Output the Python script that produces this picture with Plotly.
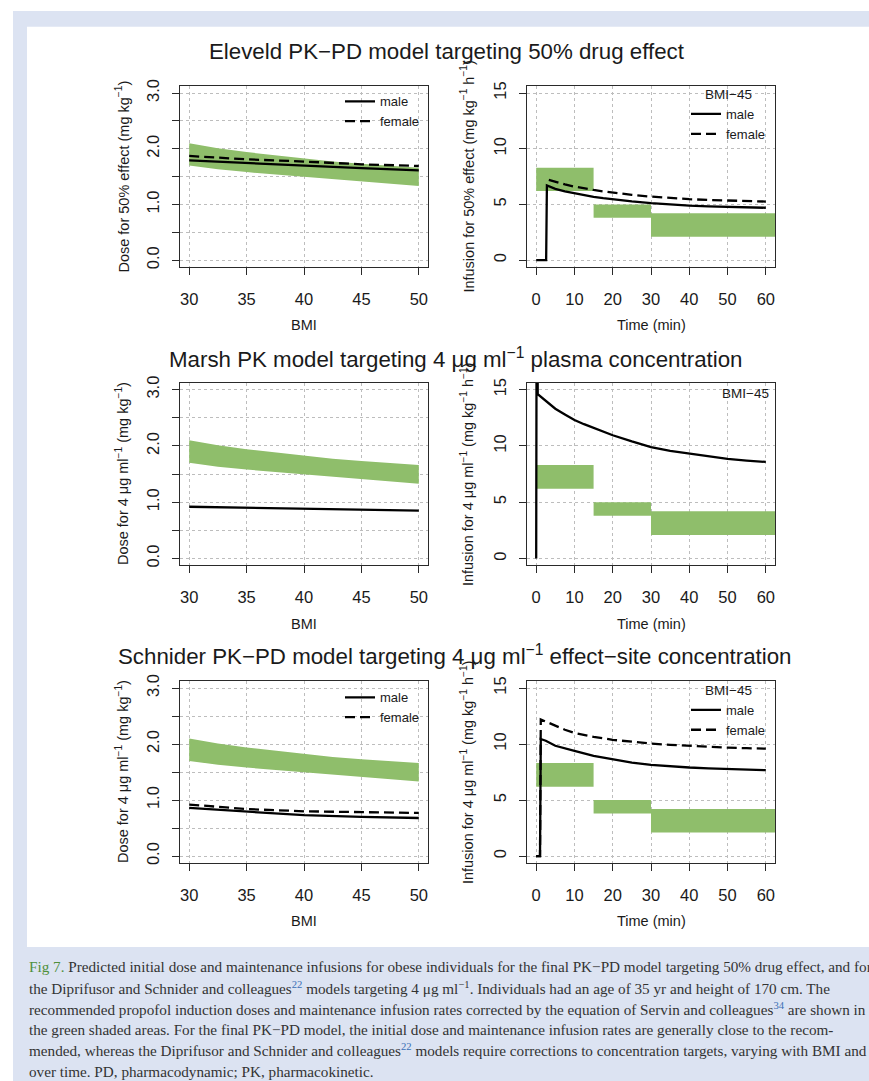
import plotly.graph_objects as go

W, H = 869, 1081
FONT = "Liberation Sans, Arial, sans-serif"
SERIF = "Liberation Serif, Times New Roman, serif"

# ---------------- data ----------------
bmi = [30, 32.5, 35, 37.5, 40, 42.5, 45, 47.5, 50]
rec_dose_upper = [2.10, 2.01, 1.94, 1.88, 1.82, 1.77, 1.73, 1.69, 1.66]
rec_dose_lower = [1.70, 1.63, 1.58, 1.54, 1.50, 1.46, 1.42, 1.37, 1.33]

bmi_lines = [30, 35, 40, 45, 50]
eleveld_dose_male = [1.79, 1.74, 1.70, 1.65, 1.61]
eleveld_dose_female = [1.87, 1.81, 1.77, 1.72, 1.69]
marsh_dose = [0.92, 0.90, 0.89, 0.87, 0.85]
schnider_dose_male = [0.86, 0.79, 0.73, 0.70, 0.68]
schnider_dose_female = [0.92, 0.84, 0.80, 0.78, 0.77]

rec_inf_start = [0, 15, 30]
rec_inf_end = [15, 30, 65]
rec_inf_low = [6.2, 3.8, 2.1]
rec_inf_high = [8.3, 5.0, 4.2]

eleveld_t_male = [0, 2.6, 2.8, 5, 7.5, 10, 12.5, 15, 17.5, 20, 25, 30, 35, 40, 45, 50, 55, 60]
eleveld_inf_male = [0, 0, 6.7, 6.4, 6.18, 6.0, 5.83, 5.68, 5.56, 5.45, 5.27, 5.12, 5.0, 4.9, 4.83, 4.77, 4.73, 4.70]
eleveld_t_female = [3.3, 5, 7.5, 10, 12.5, 15, 17.5, 20, 25, 30, 35, 40, 45, 50, 55, 60]
eleveld_inf_female = [7.2, 7.03, 6.8, 6.6, 6.43, 6.3, 6.17, 6.06, 5.86, 5.7, 5.57, 5.47, 5.4, 5.35, 5.3, 5.26]

marsh_t = [0, 0.2, 0.4, 2.5, 5, 7.5, 10, 12.5, 15, 17.5, 20, 25, 30, 35, 40, 45, 50, 55, 60]
marsh_inf = [0, 40, 14.6, 14.0, 13.3, 12.8, 12.3, 11.93, 11.6, 11.27, 10.95, 10.4, 9.9, 9.55, 9.3, 9.05, 8.85, 8.7, 8.58]

schnider_t_male = [0, 1.0, 1.2, 2.5, 5, 7.5, 10, 15, 20, 25, 30, 35, 40, 45, 50, 55, 60]
schnider_inf_male = [0, 0, 10.45, 10.3, 9.85, 9.6, 9.39, 8.95, 8.62, 8.35, 8.15, 8.02, 7.91, 7.83, 7.76, 7.71, 7.67]
schnider_t_female = [0, 1.0, 1.2, 2.5, 5, 7.5, 10, 15, 20, 25, 30, 35, 40, 45, 50, 55, 60]
schnider_inf_female = [0, 0, 12.2, 12.0, 11.6, 11.28, 11.0, 10.65, 10.38, 10.18, 10.04, 9.93, 9.83, 9.75, 9.68, 9.63, 9.59]

dose_ticks = [0, 1, 2, 3]
dose_ticktext = ["0.0", "1.0", "2.0", "3.0"]
bmi_ticks = [30, 35, 40, 45, 50]
time_ticks = [0, 10, 20, 30, 40, 50, 60]
inf_ticks = [0, 5, 10, 15]

titles = [
    "Eleveld PK−PD model targeting 50% drug effect",
    "Marsh PK model targeting 4 μg ml<sup>−1</sup> plasma concentration",
    "Schnider PK−PD model targeting 4 μg ml<sup>−1</sup> effect−site concentration",
]
dose_ytitles = [
    "Dose for 50% effect (mg kg<sup>−1</sup>)",
    "Dose for 4 μg ml<sup>−1</sup> (mg kg<sup>−1</sup>)",
    "Dose for 4 μg ml<sup>−1</sup> (mg kg<sup>−1</sup>)",
]
inf_ytitles = [
    "Infusion for 50% effect (mg kg<sup>−1</sup> h<sup>−1</sup>)",
    "Infusion for 4 μg ml<sup>−1</sup> (mg kg<sup>−1</sup> h<sup>−1</sup>)",
    "Infusion for 4 μg ml<sup>−1</sup> (mg kg<sup>−1</sup> h<sup>−1</sup>)",
]

caption_lines = [
    "<span style='color:#4f8f3a'>Fig 7.</span> Predicted initial dose and maintenance infusions for obese individuals for the final PK−PD model targeting 50% drug effect, and for",
    "the Diprifusor and Schnider and colleagues<sup><span style='color:#3a6fb5'>22</span></sup> models targeting 4 μg ml<sup>−1</sup>. Individuals had an age of 35 yr and height of 170 cm. The",
    "recommended propofol induction doses and maintenance infusion rates corrected by the equation of Servin and colleagues<sup><span style='color:#3a6fb5'>34</span></sup> are shown in",
    "the green shaded areas. For the final PK−PD model, the initial dose and maintenance infusion rates are generally close to the recom-",
    "mended, whereas the Diprifusor and Schnider and colleagues<sup><span style='color:#3a6fb5'>22</span></sup> models require corrections to concentration targets, varying with BMI and",
    "over time. PD, pharmacodynamic; PK, pharmacokinetic.",
]

# ---------------- layout geometry (pixels) ----------------
GREEN = "#8fbe6b"
BLUE_BG = "#dce3f2"
cols = [(180, 428), (527, 775)]
rows = [(80, 262), (379, 563), (680, 863)]


def fx(x):
    return x / W


def fy(y):
    return 1 - y / H


fig = go.Figure()

GRID = dict(gridcolor="#bdbdbd", griddash="dot", gridwidth=1)
axis_common = dict(
    showline=True, mirror=True, linecolor="#2a2a2a", linewidth=1,
    ticks="outside", ticklen=7, tickcolor="#2a2a2a", tickwidth=1,
    showgrid=True, zeroline=False, fixedrange=True,
    tickfont=dict(size=16.5, color="#1a1a1a", family=FONT),
    **GRID,
)

layout_axes = {}
for r in range(3):
    for c in range(2):
        i = r * 2 + c + 1
        xs = "" if i == 1 else str(i)
        xd = [fx(cols[c][0]), fx(cols[c][1])]
        yd = [fy(rows[r][1]), fy(rows[r][0])]
        if c == 0:
            xa = dict(axis_common, domain=xd, anchor="y" + xs, range=[29.2, 50.8],
                      tickmode="array", tickvals=bmi_ticks, ticklabelstandoff=10)
            ya = dict(axis_common, domain=yd, anchor="x" + xs, range=[-0.12, 3.12],
                      tickmode="array", tickvals=dose_ticks, ticktext=dose_ticktext,
                      tickangle=-90, ticklabelstandoff=6,
                      minor=dict(tick0=0, dtick=0.5, ticks="outside", ticklen=7,
                                 tickcolor="#2a2a2a", tickwidth=1, showgrid=True, **GRID))
        else:
            xa = dict(axis_common, domain=xd, anchor="y" + xs, range=[-2.4, 62.4],
                      tickmode="array", tickvals=time_ticks, ticklabelstandoff=10)
            ya = dict(axis_common, domain=yd, anchor="x" + xs, range=[-0.6, 15.6],
                      tickmode="array", tickvals=inf_ticks, tickangle=-90,
                      ticklabelstandoff=6)
        layout_axes["xaxis" + xs] = xa
        layout_axes["yaxis" + xs] = ya


def ax(i):
    s = "" if i == 1 else str(i)
    return "x" + s, "y" + s


def add_band(i):
    xa, ya = ax(i)
    fig.add_trace(go.Scatter(
        x=bmi + bmi[::-1], y=rec_dose_upper + rec_dose_lower[::-1],
        fill="toself", fillcolor=GREEN, line=dict(width=0), mode="lines",
        showlegend=False, hoverinfo="skip", xaxis=xa, yaxis=ya))


def add_rects(i):
    xa, ya = ax(i)
    for s, e, lo, hi in zip(rec_inf_start, rec_inf_end, rec_inf_low, rec_inf_high):
        fig.add_trace(go.Scatter(
            x=[s, e, e, s, s], y=[lo, lo, hi, hi, lo],
            fill="toself", fillcolor=GREEN, line=dict(width=0), mode="lines",
            showlegend=False, hoverinfo="skip", xaxis=xa, yaxis=ya))


def add_line(i, x, y, name, dash, legend=None):
    xa, ya = ax(i)
    fig.add_trace(go.Scatter(
        x=x, y=y, mode="lines", name=name,
        line=dict(color="black", width=2.3, dash=dash),
        showlegend=legend is not None, legend=legend or "legend",
        xaxis=xa, yaxis=ya))


DASH = "10px,5px"

# Row 1: Eleveld
add_band(1)
add_line(1, bmi_lines, eleveld_dose_male, "male", "solid", "legend")
add_line(1, bmi_lines, eleveld_dose_female, "female", DASH, "legend")
add_rects(2)
add_line(2, eleveld_t_female, eleveld_inf_female, "female", DASH, None)
add_line(2, eleveld_t_male, eleveld_inf_male, "male", "solid", "legend2")
fig.add_trace(go.Scatter(x=[None], y=[None], mode="lines", name="female",
                         line=dict(color="black", width=2.3, dash=DASH),
                         legend="legend2", xaxis="x2", yaxis="y2"))

# Row 2: Marsh
add_band(3)
add_line(3, bmi_lines, marsh_dose, "Marsh", "solid", None)
add_rects(4)
add_line(4, marsh_t, marsh_inf, "Marsh", "solid", None)

# Row 3: Schnider
add_band(5)
add_line(5, bmi_lines, schnider_dose_male, "male", "solid", "legend4")
add_line(5, bmi_lines, schnider_dose_female, "female", DASH, "legend4")
add_rects(6)
add_line(6, schnider_t_female, schnider_inf_female, "female", DASH, None)
add_line(6, schnider_t_male, schnider_inf_male, "male", "solid", "legend3")
fig.add_trace(go.Scatter(x=[None], y=[None], mode="lines", name="female",
                         line=dict(color="black", width=2.3, dash=DASH),
                         legend="legend3", xaxis="x6", yaxis="y6"))

leg_common = dict(bgcolor="rgba(0,0,0,0)", borderwidth=0, itemwidth=30,
                  font=dict(size=13, family=FONT, color="#1a1a1a"),
                  xanchor="left", yanchor="top", tracegroupgap=0,
                  itemclick=False, itemdoubleclick=False)
leg_title = dict(text="BMI−45", side="top center", font=dict(size=13.5, family=FONT, color="#1a1a1a"))

annotations = []
title_y = [45, 354, 653]
title_x = [447, 455, 455]
for r in range(3):
    annotations.append(dict(text=titles[r], x=fx(title_x[r]), y=fy(title_y[r]), xref="paper", yref="paper",
                            showarrow=False, xanchor="center", yanchor="middle",
                            font=dict(size=22.3, family=FONT, color="#1a1a1a")))
    yc = fy((rows[r][0] + rows[r][1]) / 2)
    annotations.append(dict(text=dose_ytitles[r], x=fx(122), y=yc, xref="paper", yref="paper",
                            showarrow=False, textangle=-90, xanchor="center", yanchor="middle",
                            font=dict(size=14.5, family=FONT, color="#1a1a1a")))
    annotations.append(dict(text=inf_ytitles[r], x=fx(467), y=yc, xref="paper", yref="paper",
                            showarrow=False, textangle=-90, xanchor="center", yanchor="middle",
                            font=dict(size=14.5, family=FONT, color="#1a1a1a")))
    xt_y = fy(rows[r][1] + 59)
    annotations.append(dict(text="BMI", x=fx((cols[0][0] + cols[0][1]) / 2), y=xt_y,
                            xref="paper", yref="paper", showarrow=False,
                            xanchor="center", yanchor="middle",
                            font=dict(size=14.5, family=FONT, color="#1a1a1a")))
    annotations.append(dict(text="Time (min)", x=fx((cols[1][0] + cols[1][1]) / 2), y=xt_y,
                            xref="paper", yref="paper", showarrow=False,
                            xanchor="center", yanchor="middle",
                            font=dict(size=14.5, family=FONT, color="#1a1a1a")))

annotations.append(dict(text="BMI−45", x=fx(771), y=fy(390), xref="paper", yref="paper",
                        showarrow=False, xanchor="right", yanchor="middle",
                        font=dict(size=13.5, family=FONT, color="#1a1a1a")))

cap_y0 = 968
for k, line in enumerate(caption_lines):
    annotations.append(dict(text=line, x=fx(27), y=fy(cap_y0 + k * 21), xref="paper", yref="paper",
                            showarrow=False, xanchor="left", yanchor="middle", align="left",
                            font=dict(size=15.2, family=SERIF, color="#333333")))

shapes = [
    dict(type="rect", xref="paper", yref="paper", x0=fx(13), x1=1.01, y0=-0.01, y1=fy(4),
         fillcolor=BLUE_BG, line=dict(width=0), layer="below"),
    dict(type="rect", xref="paper", yref="paper", x0=fx(27), x1=1.01, y0=fy(948), y1=fy(20),
         fillcolor="white", line=dict(width=0), layer="below"),
]

fig.update_layout(
    width=W, height=H, margin=dict(l=0, r=0, t=0, b=0),
    paper_bgcolor="white", plot_bgcolor="rgba(0,0,0,0)",
    font=dict(family=FONT, color="#1a1a1a"),
    annotations=annotations, shapes=shapes,
    legend=dict(leg_common, x=fx(340), y=fy(80)),
    legend2=dict(leg_common, x=fx(686), y=fy(75), title=leg_title),
    legend3=dict(leg_common, x=fx(686), y=fy(676), title=leg_title),
    legend4=dict(leg_common, x=fx(340), y=fy(681)),
    **layout_axes,
)

post = (
    "document.documentElement.style.margin='0';"
    "document.body.style.margin='0';"
    "document.body.style.overflow='hidden';"
    "var gd=document.getElementById('{plot_id}');"
    "if(gd){gd.style.position='fixed';gd.style.left='0px';gd.style.top='0px';}"
)
fig.write_html("out.html", config={"displayModeBar": False}, post_script=post)
